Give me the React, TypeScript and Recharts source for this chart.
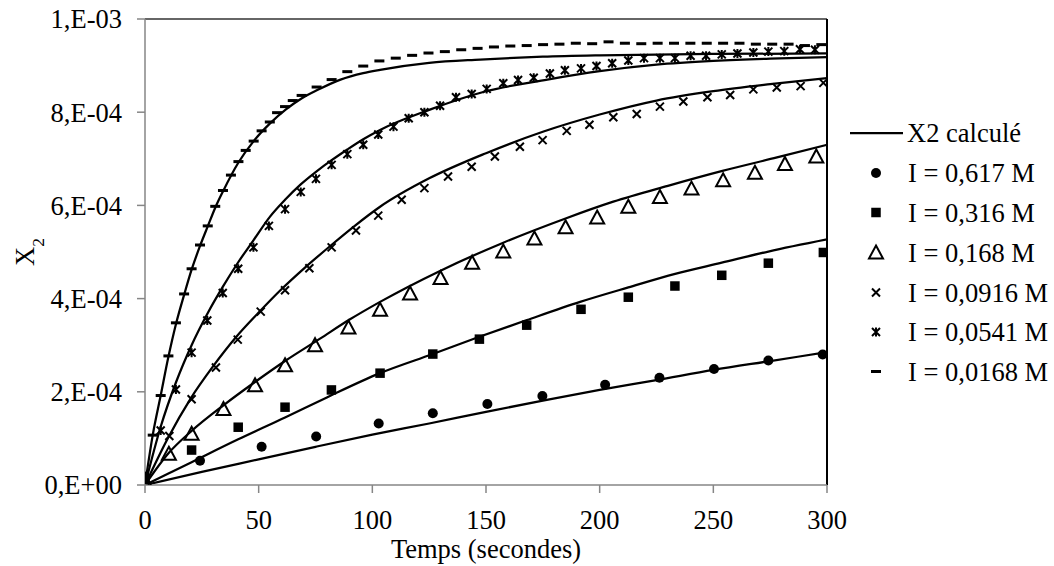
import React from 'react';
import { ComposedChart, Line, Scatter, XAxis, YAxis, ReferenceLine, Legend } from 'recharts';

const FONT = "'Liberation Serif', 'Times New Roman', Times, 'DejaVu Serif', 'Noto Serif', serif";
const FS = 26.5;
const UNIT = 1e-4; // values below are in units of 1e-4

const xTicks = [0, 50, 100, 150, 200, 250, 300];
const yTicks = [0, 0.0002, 0.0004, 0.0006, 0.0008, 0.001];
const yTickLabels = ['0,E+00', '2,E-04', '4,E-04', '6,E-04', '8,E-04', '1,E-03'];

const lineLegendName = 'X2 calculé';
const seriesNames = ['I = 0,617 M', 'I = 0,316 M', 'I = 0,168 M', 'I = 0,0916 M', 'I = 0,0541 M', 'I = 0,0168 M'];

// measured points
const t617 = [0, 24.2, 51.3, 75.3, 102.8, 126.6, 150.6, 174.8, 202.4, 226.3, 250.3, 274.2, 298.1];
const v617 = [0.18, 0.52, 0.82, 1.04, 1.32, 1.54, 1.74, 1.91, 2.15, 2.3, 2.49, 2.67, 2.8];

const t316 = [0, 20.5, 41.0, 61.6, 82.0, 103.4, 126.6, 147.1, 167.9, 191.8, 212.6, 233.1, 253.7, 274.2, 298.4];
const v316 = [0.12, 0.75, 1.24, 1.67, 2.04, 2.4, 2.81, 3.13, 3.43, 3.77, 4.03, 4.27, 4.5, 4.76, 4.99];

const t168 = [0, 10.5, 20.5, 34.5, 48.4, 61.6, 74.8, 89.5, 103.4, 116.6, 130.0, 143.9, 157.6, 171.3, 185.0, 198.9, 212.6, 226.5, 240.4, 254.3, 268.3, 281.5, 295.3];
const v168 = [0.08, 0.67, 1.1, 1.63, 2.14, 2.57, 3.0, 3.38, 3.76, 4.11, 4.44, 4.77, 5.01, 5.29, 5.53, 5.74, 5.97, 6.18, 6.36, 6.54, 6.7, 6.89, 7.05];

const t0916 = [0, 10.7, 20.5, 31.2, 40.8, 50.9, 61.6, 72.3, 82.1, 92.8, 102.6, 112.9, 122.9, 133.3, 143.7, 153.9, 164.9, 174.9, 185.5, 195.5, 206.0, 216.3, 226.5, 236.8, 247.4, 257.4, 267.6, 277.9, 288.4, 298.4];
const v0916 = [0.1, 1.05, 1.84, 2.52, 3.12, 3.72, 4.18, 4.65, 5.1, 5.46, 5.78, 6.12, 6.37, 6.62, 6.83, 7.05, 7.26, 7.4, 7.6, 7.73, 7.89, 7.96, 8.12, 8.23, 8.32, 8.37, 8.49, 8.53, 8.56, 8.63];

const t0541 = [0, 6.9, 13.6, 20.5, 27.4, 34.2, 41.0, 47.7, 54.5, 61.6, 68.5, 75.2, 82.1, 89.0, 96.0, 102.6, 109.3, 116.0, 122.9, 129.8, 136.8, 143.7, 150.3, 157.6, 164.1, 171.0, 178.1, 184.7, 191.8, 198.6, 205.5, 212.6, 219.5, 226.5, 233.1, 240.0, 246.8, 253.7, 260.6, 267.6, 274.2, 281.2, 288.1, 294.7];
const v0541 = [0.15, 1.17, 2.05, 2.84, 3.53, 4.12, 4.64, 5.1, 5.56, 5.92, 6.29, 6.57, 6.87, 7.1, 7.3, 7.52, 7.69, 7.87, 8.0, 8.14, 8.32, 8.39, 8.5, 8.62, 8.69, 8.74, 8.83, 8.9, 8.94, 8.99, 9.05, 9.11, 9.16, 9.16, 9.16, 9.21, 9.21, 9.24, 9.26, 9.28, 9.3, 9.31, 9.35, 9.34];

const t0168 = [0, 3.4, 6.9, 10.3, 13.6, 17.2, 20.5, 24.2, 27.6, 30.9, 34.3, 37.8, 41.1, 44.3, 47.8, 51.3, 54.9, 58.1, 61.6, 65.0, 68.9, 75.5, 82.1, 89.0, 96.0, 103.1, 110.3, 117.5, 124.7, 131.9, 139.1, 146.3, 153.5, 160.7, 167.9, 175.1, 182.3, 189.5, 196.7, 203.9, 211.1, 218.3, 225.5, 232.7, 239.9, 247.1, 254.3, 261.5, 268.7, 275.9, 283.1, 290.3, 297.5];
const v0168 = [0.2, 1.07, 1.92, 2.77, 3.48, 4.1, 4.64, 5.15, 5.56, 5.98, 6.32, 6.65, 6.94, 7.18, 7.38, 7.6, 7.79, 7.99, 8.12, 8.25, 8.36, 8.54, 8.7, 8.87, 8.99, 9.1, 9.16, 9.22, 9.27, 9.3, 9.34, 9.37, 9.4, 9.42, 9.43, 9.45, 9.46, 9.48, 9.47, 9.51, 9.48, 9.47, 9.48, 9.48, 9.48, 9.48, 9.48, 9.48, 9.46, 9.46, 9.46, 9.43, 9.45];

// calculated curves (X2 calculé)
const tc617 = [0, 25, 50, 75, 100, 125, 150, 175, 200, 225, 250, 275, 300];
const vc617 = [0, 0.28, 0.55, 0.82, 1.08, 1.32, 1.57, 1.81, 2.04, 2.25, 2.47, 2.66, 2.85];

const tc316 = [0, 20.5, 41, 61.6, 80, 103.4, 126.6, 147.1, 168, 191.4, 212.6, 233.2, 253.7, 274.2, 300];
const vc316 = [0, 0.49, 0.98, 1.45, 1.88, 2.4, 2.81, 3.18, 3.54, 3.93, 4.24, 4.53, 4.77, 5.01, 5.27];

const tc168 = [0, 10.5, 20.5, 34.5, 48.4, 61.6, 77, 90, 103.4, 130, 157.6, 185, 206, 230, 254, 278, 300];
const vc168 = [0, 0.69, 1.16, 1.71, 2.21, 2.66, 3.14, 3.55, 3.93, 4.6, 5.2, 5.72, 6.08, 6.42, 6.74, 7.03, 7.3];

const tc0916 = [0, 10, 20, 30, 40, 50, 60, 70, 82, 92, 103.4, 125, 150, 175, 200, 225, 250, 275, 300];
const vc0916 = [0, 1.0, 1.85, 2.55, 3.17, 3.7, 4.2, 4.65, 5.15, 5.55, 5.97, 6.58, 7.12, 7.58, 7.95, 8.25, 8.45, 8.6, 8.73];

const tc0541 = [0, 6.9, 13.6, 20.5, 27.5, 34.2, 41, 47.7, 55, 61.6, 68.5, 75.2, 82.1, 89, 96, 103.4, 125, 150, 177, 200, 225, 250, 275, 300];
const vc0541 = [0, 1.25, 2.2, 3.0, 3.68, 4.25, 4.78, 5.25, 5.76, 6.12, 6.45, 6.72, 6.97, 7.2, 7.42, 7.62, 8.05, 8.45, 8.7, 8.88, 9.02, 9.1, 9.15, 9.18];

const tc0168 = [0, 3.4, 6.9, 10.3, 13.6, 17.2, 20.5, 24.2, 27.6, 30.9, 34.3, 41.1, 47.8, 55, 62, 69, 76, 86, 96, 103.4, 125, 147.4, 175, 200, 250, 300];
const vc0168 = [0, 1.07, 1.92, 2.75, 3.45, 4.08, 4.62, 5.13, 5.55, 5.95, 6.3, 6.92, 7.38, 7.76, 8.06, 8.3, 8.48, 8.7, 8.84, 8.91, 9.06, 9.13, 9.19, 9.22, 9.25, 9.26];

const build = (t: number[], v: number[]) => t.map((ti, i) => ({ t: ti, x2: v[i] * UNIT }));

const measured = [build(t617, v617), build(t316, v316), build(t168, v168), build(t0916, v0916), build(t0541, v0541), build(t0168, v0168)];
const calculated = [build(tc617, vc617), build(tc316, vc316), build(tc168, vc168), build(tc0916, vc0916), build(tc0541, vc0541), build(tc0168, vc0168)];

type MP = { cx?: number; cy?: number };
const DotM = ({ cx = 0, cy = 0 }: MP) => <circle cx={cx} cy={cy} r={5} fill="#000" />;
const SquareM = ({ cx = 0, cy = 0 }: MP) => <rect x={cx - 4.75} y={cy - 4.75} width={9.5} height={9.5} fill="#000" />;
const TriM = ({ cx = 0, cy = 0 }: MP) => (
  <path d={`M${cx},${cy - 7} L${cx + 7},${cy + 6} L${cx - 7},${cy + 6} Z`} fill="none" stroke="#000" strokeWidth={2} strokeLinejoin="miter" />
);
const CrossM = ({ cx = 0, cy = 0 }: MP) => (
  <path d={`M${cx - 4},${cy - 4} L${cx + 4},${cy + 4} M${cx + 4},${cy - 4} L${cx - 4},${cy + 4}`} stroke="#000" strokeWidth={2} />
);
const StarM = ({ cx = 0, cy = 0 }: MP) => (
  <path d={`M${cx - 4},${cy - 4} L${cx + 4},${cy + 4} M${cx + 4},${cy - 4} L${cx - 4},${cy + 4} M${cx},${cy - 4.5} L${cx},${cy + 4.5}`} stroke="#000" strokeWidth={2} />
);
const DashM = ({ cx = 0, cy = 0 }: MP) => <rect x={cx - 5} y={cy - 1.5} width={10} height={3} fill="#000" />;

const markers = [DotM, SquareM, TriM, CrossM, StarM, DashM];

const textStyle = { fontFamily: FONT, fontSize: FS, fill: '#000' };

const LegendBox = () => {
  const rows = [20, 60, 99.5, 139.5, 179.5, 219, 258.5];
  return (
    <svg width={214} height={285} style={{ display: 'block', overflow: 'visible' }}>
      <line x1={10} x2={63} y1={rows[0]} y2={rows[0]} stroke="#000" strokeWidth={2.25} />
      <text x={67} y={rows[0] + 9} style={textStyle}>{lineLegendName}</text>
      {seriesNames.map((name, i) => {
        const M = markers[i];
        const y = rows[i + 1];
        return (
          <g key={name}>
            <M cx={36} cy={y} />
            <text x={68} y={y + 9} style={textStyle}>{name}</text>
          </g>
        );
      })}
    </svg>
  );
};

const YLabel = () => (
  <text x={34} y={252} transform="rotate(-90, 34, 252)" textAnchor="middle" style={textStyle}>
    X<tspan baselineShift="sub" style={{ fontSize: FS * 0.66 }}>2</tspan>
  </text>
);

export default function App() {
  return (
    <div style={{ width: 1054, height: 566, background: '#fff', fontFamily: FONT }}>
      <style>{`body{margin:0;background:#fff}`}</style>
      <ComposedChart width={1054} height={566} margin={{ top: 19, right: 227, bottom: 0, left: 0 }} style={{ fontFamily: FONT }}>
        <XAxis
          dataKey="t"
          type="number"
          domain={[0, 300]}
          ticks={xTicks}
          allowDataOverflow
          height={81}
          stroke="#868686"
          strokeWidth={1.5}
          tickSize={8}
          tickMargin={17}
          tick={{ fill: '#000', fontSize: FS, fontFamily: FONT, style: textStyle }}
          label={{ value: 'Temps (secondes)', position: 'insideBottom', offset: 8.5, fill: '#000', fontSize: FS, fontFamily: FONT, style: textStyle }}
        />
        <YAxis
          dataKey="x2"
          type="number"
          domain={[0, 0.001]}
          ticks={yTicks}
          allowDataOverflow
          width={145}
          stroke="#868686"
          strokeWidth={1.5}
          tickSize={8}
          tickMargin={15}
          tickFormatter={(v: number, i: number) => yTickLabels[i]}
          tick={{ fill: '#000', fontSize: FS, fontFamily: FONT, style: textStyle }}
          label={() => <YLabel />}
        />
        <ReferenceLine y={0.001} stroke="#333" strokeWidth={1.5} />
        <ReferenceLine x={300} stroke="#000" strokeWidth={2} />
        {calculated.map((d, i) => (
          <Line
            key={'c' + i}
            data={d}
            dataKey="x2"
            type="monotone"
            stroke="#000"
            strokeWidth={2.25}
            dot={false}
            activeDot={false}
            isAnimationActive={false}
            legendType="none"
          />
        ))}
        {measured.map((d, i) => {
          const M = markers[i];
          return (
            <Scatter
              key={'m' + i}
              name={seriesNames[i]}
              data={d}
              dataKey="x2"
              shape={(p: any) => <M cx={p.cx} cy={p.cy} />}
              isAnimationActive={false}
            />
          );
        })}
        <Legend
          layout="vertical"
          align="center"
          verticalAlign="middle"
          content={() => <LegendBox />}
          wrapperStyle={{ left: 840, top: 113, width: 214, height: 285 }}
        />
      </ComposedChart>
    </div>
  );
}
